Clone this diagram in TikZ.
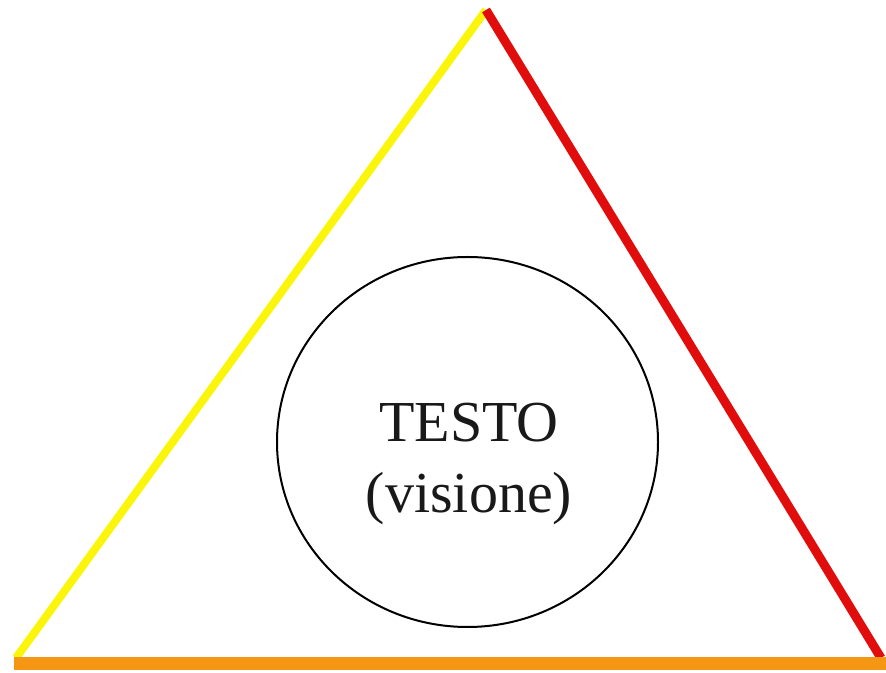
\documentclass[tikz,border=0pt]{standalone}
\usepackage{fontspec}
\setmainfont{Liberation Serif}
\usetikzlibrary{shapes.geometric}
\definecolor{triyellow}{RGB}{250,245,10}
\definecolor{trired}{RGB}{225,12,12}
\definecolor{triorange}{RGB}{245,150,20}
\tikzset{
  sideline/.style={line width=8pt, line cap=butt},
  ringshape/.style={draw=black, line width=2pt, ellipse, minimum width=381pt, minimum height=370pt, inner sep=0pt},
  bigtext/.style={font=\fontsize{58}{71}\selectfont, align=center, inner sep=0pt, text=black!90}
}
\begin{document}
\begin{tikzpicture}[x=1pt,y=1pt]
\useasboundingbox (0,0) rectangle (886,672);
\coordinate (apex) at (486,662);
\coordinate (bl) at (16,14);
\coordinate (br) at (881,14);
\coordinate (ol) at (14,9);
\coordinate (or) at (886,9);
\draw[sideline, triyellow] (bl) -- (apex);
\draw[sideline, trired, line width=9pt] (apex) -- (br);
\draw[triorange, line width=13pt] (ol) -- (or);
\node[ringshape] (ring) at (467.5,230) {};
\node[bigtext] (txt) at (469,207.7) {TESTO\\(visione)};
\end{tikzpicture}
\end{document}
